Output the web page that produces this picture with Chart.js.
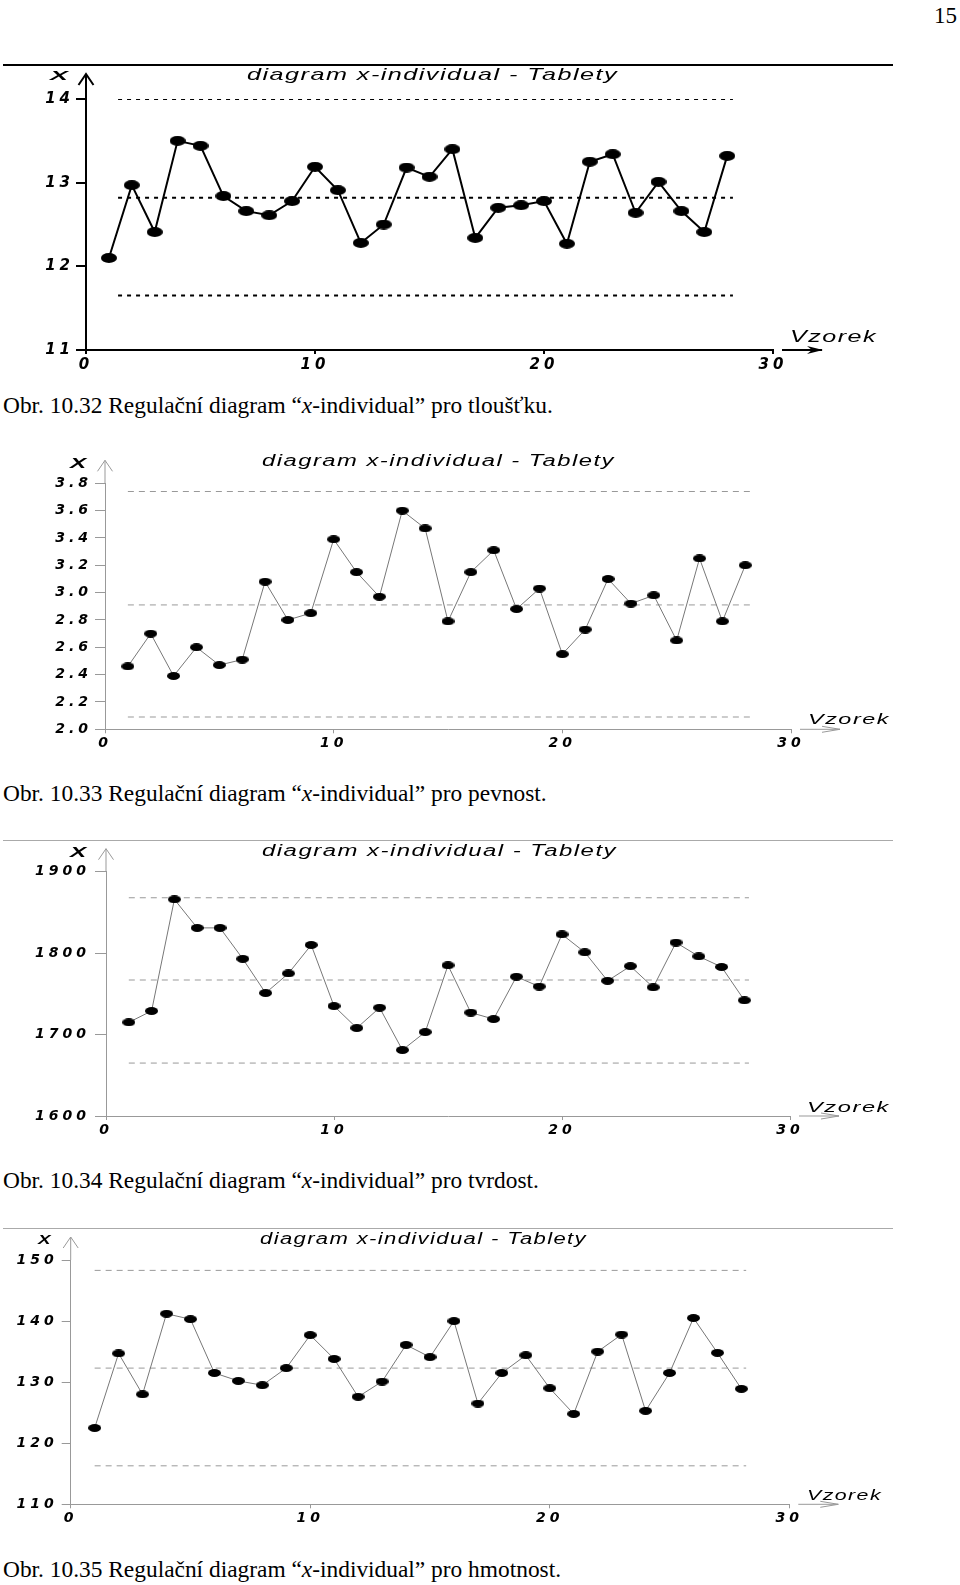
<!DOCTYPE html>
<html lang="cs">
<head>
<meta charset="utf-8">
<title>Regulační diagramy x-individual</title>
<script src="https://cdn.jsdelivr.net/npm/chart.js@4.4.1/dist/chart.umd.min.js"></script>
<style>
  html, body { margin: 0; padding: 0; background: #fff; }
  #page { position: relative; width: 960px; height: 1585px; overflow: hidden; }
  canvas { position: absolute; left: 0; }
  .t { position: absolute; white-space: nowrap; transform-origin: 0 50%; z-index: 2; color: #000; }
  .cap { position: absolute; left: 3px; font-family: "Liberation Serif", "Times New Roman", serif;
         font-size: 23.4px; line-height: 23px; white-space: nowrap; color: #000; }
  .rule { position: absolute; left: 3px; width: 890px; }
</style>
</head>
<body>
<div id="page">
  <div class="cap" style="left:934px; top:4px; font-size:23px; line-height:23px">15</div>

  <div class="rule" style="top:64px; height:2px; background:#000"></div>
  <canvas id="c1" width="960" height="325" style="top:60px"></canvas>
  <div class="cap" style="top:394px">Obr. 10.32 Regulační diagram “<i>x</i>-individual” pro tloušťku.</div>

  <canvas id="c2" width="960" height="315" style="top:445px"></canvas>
  <div class="cap" style="top:782px">Obr. 10.33 Regulační diagram “<i>x</i>-individual” pro pevnost.</div>

  <div class="rule" style="top:840px; height:1px; background:#aaa"></div>
  <canvas id="c3" width="960" height="300" style="top:845px"></canvas>
  <div class="cap" style="top:1169px">Obr. 10.34 Regulační diagram “<i>x</i>-individual” pro tvrdost.</div>

  <div class="rule" style="top:1228px; height:1px; background:#aaa"></div>
  <canvas id="c4" width="960" height="303" style="top:1232px"></canvas>
  <div class="cap" style="top:1558px">Obr. 10.35 Regulační diagram “<i>x</i>-individual” pro hmotnost.</div>
</div>

<script>
// --- data ---
const sampleNo = [1, 2, 3, 4, 5, 6, 7, 8, 9, 10, 11, 12, 13, 14, 15, 16, 17, 18, 19, 20, 21, 22, 23, 24, 25, 26, 27, 28];
const xTicks = [0, 10, 20, 30];

// Obr. 10.32 - tloustka
const thickness = [12.10, 12.97, 12.41, 13.50, 13.44, 12.84, 12.66, 12.61, 12.78, 13.19, 12.91, 12.28, 12.50, 13.18,
                   13.07, 13.40, 12.34, 12.70, 12.73, 12.78, 12.27, 13.25, 13.34, 12.64, 13.01, 12.66, 12.41, 13.32];
const thicknessLimits = [14.00, 12.82, 11.65];   // UCL, CL, LCL
const thicknessSpan = [1.4, 28.25];
const thicknessTicks = [11, 12, 13, 14];

// Obr. 10.33 - pevnost
const strength = [2.46, 2.70, 2.39, 2.60, 2.47, 2.51, 3.08, 2.80, 2.85, 3.39, 3.15, 2.97, 3.60, 3.47,
                  2.79, 3.15, 3.31, 2.88, 3.03, 2.55, 2.73, 3.10, 2.92, 2.98, 2.65, 3.25, 2.79, 3.20];
const strengthLimits = [3.74, 2.91, 2.09];
const strengthSpan = [1.0, 28.2];
const strengthTicks = [2.0, 2.2, 2.4, 2.6, 2.8, 3.0, 3.2, 3.4, 3.6, 3.8];

// Obr. 10.34 - tvrdost
const hardness = [1715, 1729, 1866, 1831, 1831, 1793, 1751, 1775, 1810, 1735, 1708, 1733, 1681, 1703,
                  1785, 1727, 1719, 1771, 1759, 1823, 1801, 1766, 1784, 1758, 1813, 1796, 1783, 1742];
const hardnessLimits = [1868, 1767, 1665];
const hardnessSpan = [1.0, 28.2];
const hardnessTicks = [1600, 1700, 1800, 1900];

// Obr. 10.35 - hmotnost
const weight = [122.5, 134.7, 128.0, 141.2, 140.3, 131.5, 130.2, 129.5, 132.3, 137.7, 133.8, 127.6, 130.1, 136.1,
                134.1, 140.0, 126.5, 131.5, 134.4, 129.0, 124.8, 135.0, 137.8, 125.3, 131.5, 140.5, 134.8, 128.9];
const weightLimits = [148.3, 132.3, 116.3];
const weightSpan = [1.0, 28.2];
const weightTicks = [110, 120, 130, 140, 150];

const page = document.getElementById("page");

// black ellipse used as the point marker
function ellipse(w, h) {
  const c = document.createElement("canvas");
  c.width = w; c.height = h;
  const g = c.getContext("2d");
  g.fillStyle = "#000";
  g.beginPath();
  g.ellipse(w / 2, h / 2, w / 2, h / 2, 0, 0, Math.PI * 2);
  g.fill();
  return c;
}

// axis arrows + wide lettering of the tick labels
const axisDecor = {
  id: "axisDecor",
  beforeDraw(chart, args, o) {
    chart.ctx.letterSpacing = o.spacing + "px";
  },
  afterDraw(chart, args, o) {
    const ctx = chart.ctx, a = chart.chartArea;
    ctx.save();
    ctx.letterSpacing = "0px";
    ctx.strokeStyle = o.color;
    ctx.fillStyle = o.color;
    ctx.lineWidth = o.width;
    // y axis goes on above the top tick and ends in an open arrow
    const top = a.top - o.up;
    ctx.beginPath();
    ctx.moveTo(a.left, a.top);
    ctx.lineTo(a.left, top);
    ctx.moveTo(a.left - 7.5, top + 11);
    ctx.lineTo(a.left, top);
    ctx.lineTo(a.left + 7.5, top + 11);
    ctx.stroke();
    // separate arrow to the right of the x axis
    const y = a.bottom, x0 = a.right + 9, x1 = a.right + 49;
    ctx.beginPath();
    ctx.moveTo(x0, y);
    ctx.lineTo(x1, y);
    ctx.stroke();
    if (o.filled) {
      ctx.beginPath();
      ctx.moveTo(x1 + 1, y);
      ctx.lineTo(x1 - 15, y - 4);
      ctx.lineTo(x1 - 10, y);
      ctx.lineTo(x1 - 15, y + 4);
      ctx.closePath();
      ctx.fill();
    } else {
      ctx.beginPath();
      ctx.moveTo(x1 - 18, y - 3);
      ctx.lineTo(x1, y);
      ctx.lineTo(x1 - 18, y + 3);
      ctx.stroke();
    }
    ctx.restore();
  }
};

function controlChart(id, c) {
  const pts = sampleNo.map((n, i) => ({ x: n, y: c.values[i] }));
  const limitLine = v => ({
    data: [{ x: c.span[0], y: v }, { x: c.span[1], y: v }],
    borderColor: c.dashColor,
    borderWidth: c.dashWidth,
    borderDash: c.dash,
    pointRadius: 0,
    order: 2
  });
  const tickFont = { family: "DejaVu Sans", style: "italic", weight: "bold", size: c.fontSize };
  const canvas = document.getElementById(id);

  return new Chart(canvas, {
    type: "line",
    data: {
      datasets: [
        {
          data: pts,
          borderColor: c.lineColor,
          borderWidth: c.lineWidth,
          pointStyle: ellipse(c.marker[0], c.marker[1]),
          pointRadius: 5,
          order: 1
        },
        ...c.limits.map(limitLine)
      ]
    },
    options: {
      responsive: false,
      animation: false,
      events: [],
      layout: { padding: { top: c.padTop, right: canvas.width - c.right, left: 0, bottom: 0 } },
      plugins: {
        legend: { display: false },
        tooltip: { enabled: false },
        axisDecor: { color: c.axisColor, width: c.axisWidth, up: c.up, filled: c.filledArrow, spacing: c.spacing }
      },
      scales: {
        x: {
          type: "linear",
          min: 0, max: 30,
          afterBuildTicks: s => { s.ticks = xTicks.map(v => ({ value: v })); },
          afterFit: s => { s.height = canvas.height - c.bottom; },
          border: { color: c.axisColor, width: c.axisWidth },
          grid: { drawOnChartArea: false, color: c.axisColor, lineWidth: c.axisWidth, tickLength: 4 },
          ticks: { color: "#000", font: tickFont, padding: 2, maxRotation: 0, autoSkip: false }
        },
        y: {
          type: "linear",
          min: c.ticks[0], max: c.ticks[c.ticks.length - 1],
          afterBuildTicks: s => { s.ticks = c.ticks.map(v => ({ value: v })); },
          afterFit: s => { s.width = c.left; },
          border: { color: c.axisColor, width: c.axisWidth },
          grid: { drawOnChartArea: false, color: c.axisColor, lineWidth: c.axisWidth, tickLength: c.yTick },
          ticks: { color: "#000", font: tickFont, padding: c.yPad, autoSkip: false, callback: c.fmt }
        }
      }
    },
    plugins: [axisDecor]
  });
}

const grey = {
  lineColor: "#777", lineWidth: 1, marker: [13, 8],
  dashColor: "#999", dashWidth: 1, dash: [6, 5],
  axisColor: "#999", axisWidth: 1, filledArrow: false,
  fontSize: 14, spacing: 4, up: 23
};

// chart placement: left/right = x pixel of 0 and 30, padTop/bottom = y pixel of max/min inside the canvas
controlChart("c1", {
  values: thickness, limits: thicknessLimits, span: thicknessSpan, ticks: thicknessTicks,
  fmt: v => String(v),
  left: 86, right: 773, padTop: 39, bottom: 290, yTick: 10, yPad: 2,
  lineColor: "#000", lineWidth: 2, marker: [16, 10],
  dashColor: "#000", dashWidth: 2, dash: [4, 5],
  axisColor: "#000", axisWidth: 2, filledArrow: true,
  fontSize: 15, spacing: 4, up: 25
});

controlChart("c2", Object.assign({}, grey, {
  values: strength, limits: strengthLimits, span: strengthSpan, ticks: strengthTicks,
  fmt: v => v.toFixed(1),
  left: 105, right: 791, padTop: 38.3, bottom: 284.3, yTick: 10, yPad: 3
}));

controlChart("c3", Object.assign({}, grey, {
  values: hardness, limits: hardnessLimits, span: hardnessSpan, ticks: hardnessTicks,
  fmt: v => String(v),
  left: 106, right: 790, padTop: 26.7, bottom: 271, yTick: 11, yPad: 5
}));

controlChart("c4", Object.assign({}, grey, {
  values: weight, limits: weightLimits, span: weightSpan, ticks: weightTicks,
  fmt: v => String(v),
  left: 70.7, right: 789.3, padTop: 28, bottom: 272.3, yTick: 9, yPad: 4
}));

// wide italic lettering of the figure: title, axis names
function label(text, left, width, cy, size, weight) {
  const d = document.createElement("div");
  d.className = "t";
  d.textContent = text;
  d.style.left = left + "px";
  d.style.top = (cy - size / 2) + "px";
  d.style.font = `italic ${weight} ${size}px/${size}px "Liberation Sans", Arial, sans-serif`;
  d.style.letterSpacing = "1px";
  page.appendChild(d);
  d.style.transform = `scaleX(${width / d.getBoundingClientRect().width})`;
}

const title = "diagram x-individual - Tablety";
label("X", 50, 20, 75.5, 13, "bold");
label(title, 247, 371, 74, 17, "normal");
label("Vzorek", 790, 87, 336.5, 17, "normal");

label("X", 70, 18, 463, 14, "bold");
label(title, 262, 353, 461, 16, "normal");
label("Vzorek", 808, 82, 718, 15, "normal");

label("X", 70, 18, 851.7, 14, "bold");
label(title, 262, 355, 850.5, 16, "normal");
label("Vzorek", 807, 83, 1106, 15, "normal");

label("X", 38, 14, 1239.5, 13, "bold");
label(title, 260, 327, 1238.5, 16, "normal");
label("Vzorek", 807, 75, 1494, 15, "normal");
</script>
</body>
</html>
